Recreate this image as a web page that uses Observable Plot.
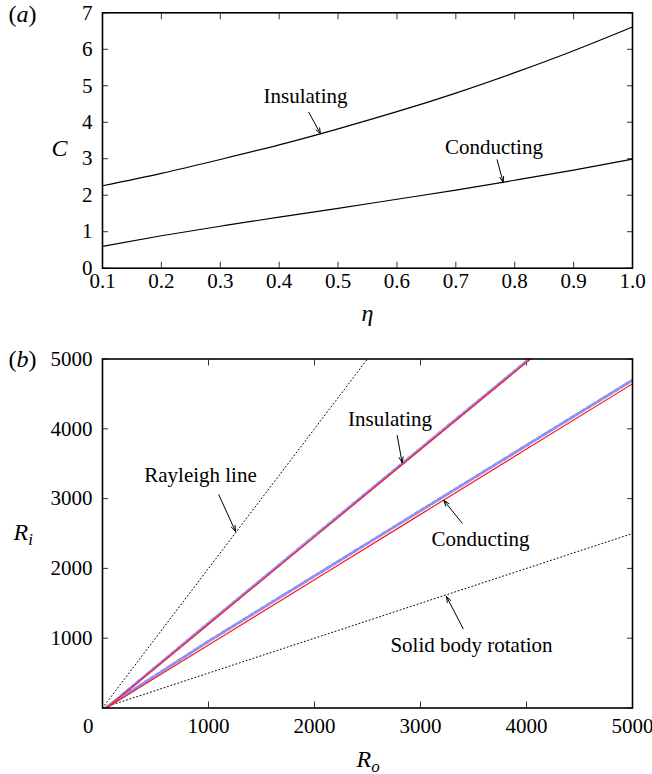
<!DOCTYPE html>
<html>
<head>
<meta charset="utf-8">
<script src="https://cdn.jsdelivr.net/npm/d3@7"></script>
<script src="https://cdn.jsdelivr.net/npm/@observablehq/plot@0.6"></script>
<style>
  html, body { margin: 0; padding: 0; background: white; }
  #chart svg { display: block; }
  #chart svg text { font-family: "Liberation Serif", "Times New Roman", serif; }
</style>
</head>
<body>
<div id="chart"></div>
<script>
// ---------- Panel (a) data ----------
const eta = [0.1, 0.2, 0.3, 0.4, 0.5, 0.6, 0.7, 0.8, 0.9, 1.0];
const cInsulating = [2.26, 2.60, 2.98, 3.38, 3.82, 4.29, 4.80, 5.36, 5.96, 6.61];
const cConducting = [0.60, 0.89, 1.15, 1.40, 1.64, 1.89, 2.14, 2.41, 2.69, 2.99];
const etaTicks = [0.1, 0.2, 0.3, 0.4, 0.5, 0.6, 0.7, 0.8, 0.9, 1.0];
const cTicks = [0, 1, 2, 3, 4, 5, 6, 7];

// ---------- Panel (b) data ----------
const ro = [40, 1000, 2000, 3000, 4000, 5000];
const riInsulatingRed = [1, 1201, 2452, 3703, 4953, 6204];
const riInsulatingBlue = [5, 1215, 2466, 3717, 4967, 6218];
const riConductingRed = [4, 903, 1838, 2774, 3710, 4645];
const riConductingBlue = [15, 955, 1891, 2827, 3762, 4697];
const roRayleigh = [0, 2500];
const riRayleigh = [0, 5000];
const roSolid = [0, 5000];
const riSolid = [0, 2500];
const rTicks = [1000, 2000, 3000, 4000, 5000];
const rAllTicks = [0, 1000, 2000, 3000, 4000, 5000];

const font = "'Liberation Serif', 'Times New Roman', serif";
const W = 652;

function pts(xs, ys) { return xs.map((x, i) => ({x, y: ys[i]})); }

// ---------- Panel (a) ----------
const plotA = Plot.plot({
  width: W, height: 340,
  marginLeft: 102, marginRight: 20, marginTop: 12.3, marginBottom: 72.3,
  style: {fontFamily: font, fontSize: "21px", background: "white", overflow: "visible"},
  x: {domain: [0.1, 1.0]},
  y: {domain: [0, 7]},
  marks: [
    Plot.axisX(etaTicks, {anchor: "bottom", tickSize: -6, fill: "none", label: null, stroke: "#333"}),
    Plot.axisX(etaTicks, {anchor: "top", tickSize: -6, fill: "none", label: null, stroke: "#333"}),
    Plot.axisY(cTicks, {anchor: "left", tickSize: -6, fill: "none", label: null, stroke: "#333"}),
    Plot.axisY(cTicks, {anchor: "right", tickSize: -6, fill: "none", label: null, stroke: "#333"}),
    Plot.axisX(etaTicks, {anchor: "bottom", tickSize: 0, tickPadding: 4.4, label: null, tickFormat: d => d.toFixed(1), fill: "black"}),
    Plot.axisY(cTicks, {anchor: "left", tickSize: 0, tickPadding: 10, label: null, fill: "black"}),
    Plot.line(pts(eta, cInsulating), {x: "x", y: "y", curve: "natural", stroke: "black", strokeWidth: 1.2}),
    Plot.line(pts(eta, cConducting), {x: "x", y: "y", curve: "natural", stroke: "black", strokeWidth: 1.2}),
    Plot.frame({stroke: "black", strokeWidth: 1.6}),
    Plot.text(["Insulating"], {x: 0.4447, y: 4.52, textAnchor: "middle", lineAnchor: "bottom", fill: "black"}),
    Plot.text(["Conducting"], {x: 0.7647, y: 3.135, textAnchor: "middle", lineAnchor: "bottom", fill: "black"}),
    Plot.arrow([{x1: 0.4503, y1: 4.275, x2: 0.4701, y2: 3.683}, {x1: 0.7701, y1: 2.971, x2: 0.7803, y2: 2.357}],
      {x1: "x1", y1: "y1", x2: "x2", y2: "y2", stroke: "black", strokeWidth: 1, headLength: 9, headAngle: 40}),
    Plot.text(["(a)"], {x: 0.1, y: 6.761, dx: -94, textAnchor: "start", lineAnchor: "bottom", fontSize: 24, fill: "black"}),
    Plot.text(["C"], {x: 0.1, y: 3.088, dx: -43, textAnchor: "middle", lineAnchor: "bottom", fontSize: 24, fontStyle: "italic", fill: "black"}),
    Plot.text(["η"], {x: 0.55, y: 0, dy: 52.3, textAnchor: "middle", lineAnchor: "bottom", fontSize: 24, fontStyle: "italic", fill: "black"})
  ]
});

// ---------- Panel (b) ----------
const plotB = Plot.plot({
  width: W, height: 434,
  marginLeft: 102, marginRight: 20, marginTop: 18.5, marginBottom: 66.5,
  style: {fontFamily: font, fontSize: "21px", background: "white", overflow: "visible"},
  x: {domain: [0, 5000]},
  y: {domain: [0, 5000]},
  marks: [
    Plot.axisX(rAllTicks, {anchor: "bottom", tickSize: -6, fill: "none", label: null, stroke: "#333"}),
    Plot.axisX(rAllTicks, {anchor: "top", tickSize: -6, fill: "none", label: null, stroke: "#333"}),
    Plot.axisY(rAllTicks, {anchor: "left", tickSize: -6, fill: "none", label: null, stroke: "#333"}),
    Plot.axisY(rAllTicks, {anchor: "right", tickSize: -6, fill: "none", label: null, stroke: "#333"}),
    Plot.axisX(rTicks, {anchor: "bottom", tickSize: 0, tickPadding: 10.3, label: null, tickFormat: d => String(d), fill: "black"}),
    Plot.axisY(rTicks, {anchor: "left", tickSize: 0, tickPadding: 10, label: null, tickFormat: d => String(d), fill: "black"}),
    Plot.text(["0"], {x: 0, y: 0, dx: -14.3, dy: 24.8, textAnchor: "middle", lineAnchor: "bottom", fill: "black"}),
    Plot.line(pts(roRayleigh, riRayleigh), {x: "x", y: "y", stroke: "black", strokeWidth: 1, strokeDasharray: "1,2.6", clip: true}),
    Plot.line(pts(roSolid, riSolid), {x: "x", y: "y", stroke: "black", strokeWidth: 1, strokeDasharray: "1,2.6", clip: true}),
    Plot.line(pts(ro, riInsulatingBlue), {x: "x", y: "y", stroke: "#8f8ff2", strokeWidth: 3, strokeDasharray: "4,2.5", clip: true}),
    Plot.line(pts(ro, riConductingBlue), {x: "x", y: "y", stroke: "#8f8ff2", strokeWidth: 3, strokeDasharray: "4,2.5", clip: true}),
    Plot.line(pts(ro, riInsulatingRed), {x: "x", y: "y", stroke: "#ff1a1a", strokeWidth: 1.2, clip: true}),
    Plot.line(pts(ro, riConductingRed), {x: "x", y: "y", stroke: "#ff1a1a", strokeWidth: 1.2, clip: true}),
    Plot.frame({stroke: "black", strokeWidth: 1.6}),
    Plot.text(["Rayleigh line"], {x: 924.5, y: 3235, textAnchor: "middle", lineAnchor: "bottom", fill: "black"}),
    Plot.text(["Insulating"], {x: 2712, y: 4033, textAnchor: "middle", lineAnchor: "bottom", fill: "black"}),
    Plot.text(["Conducting"], {x: 3566, y: 2328, textAnchor: "middle", lineAnchor: "bottom", fill: "black"}),
    Plot.text(["Solid body rotation"], {x: 3481, y: 809, textAnchor: "middle", lineAnchor: "bottom", fill: "black"}),
    Plot.arrow([
        {x1: 1097, y1: 3055, x2: 1255, y2: 2530},
        {x1: 2780, y1: 3904, x2: 2827, y2: 3513},
        {x1: 3393, y1: 2648, x2: 3220, y2: 2973},
        {x1: 3403, y1: 1135, x2: 3245, y2: 1597}
      ],
      {x1: "x1", y1: "y1", x2: "x2", y2: "y2", stroke: "black", strokeWidth: 1, headLength: 9, headAngle: 40}),
    Plot.text(["(b)"], {frameAnchor: "top-left", dx: -94, dy: 8.2, textAnchor: "start", lineAnchor: "bottom", fontSize: 24, fill: "black"}),
    Plot.text(["Ri"], {x: 0, y: 2400, dx: -89, textAnchor: "start", lineAnchor: "bottom", fontSize: 24, fontStyle: "italic", fill: "black"}),
    Plot.text(["Ro"], {x: 2396, y: 0, dy: 58.5, textAnchor: "start", lineAnchor: "bottom", fontSize: 24, fontStyle: "italic", fill: "black"})
  ]
});

// italic letters and subscripts
function fixTexts(svg) {
  d3.select(svg).selectAll("text").each(function () {
    const t = this.textContent;
    if (t === "(a)") this.innerHTML = '(<tspan font-style="italic">a</tspan>)';
    else if (t === "(b)") this.innerHTML = '(<tspan font-style="italic">b</tspan>)';
    else if (t === "Ri") this.innerHTML = 'R<tspan font-size="17" dy="5">i</tspan>';
    else if (t === "Ro") this.innerHTML = 'R<tspan font-size="17" dy="5">o</tspan>';
  });
}
fixTexts(plotA);
fixTexts(plotB);

const root = document.getElementById("chart");
root.appendChild(plotA);
root.appendChild(plotB);
</script>
</body>
</html>
